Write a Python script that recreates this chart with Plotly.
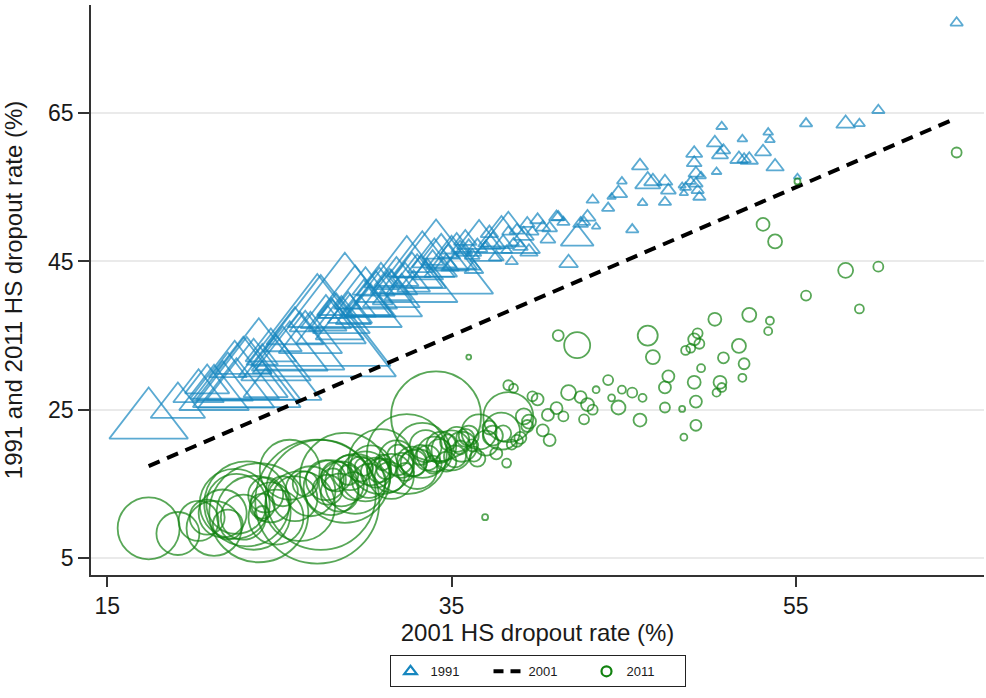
import math
import plotly.graph_objects as go

# One entry per municipality: 2001 dropout rate (x), 1991 and 2011 rates (y),
# and the population weight that scales the markers.
rate_2001 = [17.4, 19.1, 20.3, 20.8, 21.2, 21.7, 22.0, 22.4, 22.5, 22.9,
             23.1, 23.5, 23.8, 24.0, 24.0, 24.2, 24.5, 24.8, 25.2, 25.6,
             25.9, 26.2, 26.5, 26.8, 27.2, 27.4, 27.7, 28.0, 28.3, 28.6,
             28.8, 29.1, 29.4, 29.7, 30.0, 30.3, 30.6, 30.9, 31.2, 31.5,
             31.8, 32.1, 32.4, 32.7, 33.0, 33.3, 33.6, 34.1, 34.0, 34.4,
             34.7, 35.0, 35.3, 35.6, 36.0, 36.3, 36.6, 37.0, 37.4, 37.9,
             38.2, 38.5, 38.3, 38.6, 39.2, 39.4, 39.0, 40.0, 39.7, 40.6,
             41.1, 41.5, 40.7, 41.2, 42.3, 36.0, 41.8, 42.5, 42.9, 43.4,
             42.7, 43.2, 44.1, 44.3, 44.7, 44.9, 45.5, 46.1, 45.95, 46.4,
             46.7, 47.6, 47.4, 47.4, 48.4, 48.5, 48.6, 48.9, 49.1, 49.1,
             49.2, 49.2, 49.3, 49.4, 49.5, 50.3, 50.4, 50.6, 50.7, 50.8,
             51.7, 51.9, 52.0, 52.3, 53.1, 53.4, 53.5, 53.8, 55.1, 55.6,
             57.9, 58.7, 59.8, 64.35,
             27.8, 28.1, 28.5, 29.0, 29.3, 29.9, 30.2, 30.8, 31.0, 31.4,
             31.9, 32.3, 32.8, 33.2, 33.5, 33.9, 34.3, 34.8, 35.2, 35.5,
             35.8, 36.2, 36.5, 36.95, 37.2, 37.6, 38.0, 38.8, 39.5, 40.3,
             38.3]
rate_1991 = [23.4, 25.5, 27.5, 28.5, 27.0, 28.0, 30.5, 29.1, 27.5, 31.5,
             28.5, 29.1, 30.0, 32.0, 30.5, 28.0, 33.0, 31.0, 34.0, 32.5,
             35.5, 33.0, 36.5, 34.5, 34.1, 35.0, 37.5, 36.0, 38.5, 37.0,
             39.5, 38.0, 40.0, 38.5, 40.5, 39.0, 41.5, 40.0, 42.0, 40.5,
             43.0, 41.5, 42.5, 44.0, 43.0, 45.0, 43.5, 44.0, 45.5, 46.5,
             44.5, 45.5, 47.0, 45.0, 46.5, 44.0, 48.0, 46.0, 47.5, 48.4,
             46.5, 45.0, 49.0, 47.5, 48.5, 50.1, 47.0, 50.6, 49.0, 48.0,
             51.0, 50.3, 49.5, 51.0, 48.1, 46.0, 44.8, 50.1, 51.0, 49.7,
             50.3, 53.3, 52.2, 53.7, 54.2, 55.8, 49.3, 52.9, 57.9, 55.6,
             55.8, 54.6, 55.8, 53.0, 55.2, 54.2, 55.0, 55.8, 59.6, 58.3,
             56.9, 55.5, 54.6, 53.7, 56.5, 61.0, 57.1, 59.4, 63.2, 60.0,
             58.8, 61.5, 58.8, 58.7, 59.8, 62.4, 61.4, 57.8, 56.4, 63.6,
             63.6, 63.6, 65.4, 77.2,
             36.8, 38.2, 35.9, 39.4, 37.6, 41.2, 38.9, 42.4, 39.8, 41.8,
             40.6, 43.5, 41.9, 44.3, 42.6, 45.2, 43.8, 46.1, 44.6, 46.8,
             47.9, 45.8, 46.9, 47.2, 48.8, 45.6, 47.4, 49.2, 46.3, 49.6,
             48.0]
rate_2011 = [9.0, 8.3, 10.0, 10.5, 9.0, 11.0, 9.5, 12.3, 12.3, 10.5,
             12.3, 11.1, 11.1, 12.0, 11.0, 13.5, 12.5, 10.5, 14.0, 16.9,
             13.0, 12.0, 15.0, 14.0, 12.6, 13.5, 15.5, 14.5, 16.0, 15.0,
             15.8, 16.5, 15.0, 17.0, 16.0, 17.5, 16.5, 18.0, 17.0, 16.0,
             18.5, 17.5, 19.0, 18.0, 17.0, 19.5, 18.5, 24.1, 19.0, 20.0,
             18.0, 19.5, 21.0, 20.0, 21.5, 19.0, 22.0, 20.5, 21.5, 22.1,
             17.8, 20.3, 28.3, 27.9, 24.1, 22.8, 21.2, 26.4, 26.8, 24.3,
             25.2, 24.1, 20.9, 35.0, 33.7, 32.1, 27.3, 26.7, 25.7, 27.7,
             23.7, 25.0, 29.0, 26.6, 25.3, 27.7, 27.3, 26.6, 23.6, 35.0,
             32.1, 29.5, 28.0, 25.3, 25.1, 21.3, 33.0, 33.3, 28.7, 34.5,
             26.1, 22.9, 35.3, 33.9, 30.6, 37.2, 27.3, 28.7, 28.0, 32.0,
             33.6, 29.3, 31.2, 37.8, 50.0, 35.6, 37.0, 47.7, 55.8, 40.4,
             43.8, 38.6, 44.3, 59.7,
             14.2, 15.6, 13.8, 16.2, 14.7, 17.3, 15.4, 16.8, 17.9, 15.9,
             18.8, 16.6, 17.8, 18.9, 20.1, 17.6, 19.4, 20.6, 18.7, 19.9,
             21.2, 20.2, 18.4, 10.5, 22.6, 19.1, 21.8, 20.8, 23.4, 22.2,
             24.0]
weight = [961, 462, 400, 306, 756, 576, 225, 1225, 900, 506,
          1806, 1369, 2450, 156, 56, 306, 400, 756, 225, 900,
          506, 1225, 156, 625, 3844, 3025, 400, 756, 225, 506,
          2025, 306, 900, 156, 625, 400, 225, 1056, 100, 506,
          306, 156, 1600, 225, 400, 756, 156, 2025, 306, 225,
          100, 400, 156, 225, 100, 56, 306, 156, 100, 342,
          20, 25, 25, 20, 64, 36, 36, 36, 25, 36,
          36, 25, 36, 30, 169, 6, 56, 36, 42, 12,
          25, 25, 25, 12, 49, 16, 25, 16, 42, 100,
          49, 36, 36, 25, 9, 12, 20, 20, 42, 36,
          36, 30, 25, 25, 16, 42, 16, 42, 20, 30,
          49, 16, 30, 49, 42, 16, 16, 49, 9, 25,
          56, 20, 25, 25,
          225, 121, 361, 100, 196, 81, 289, 144, 64, 225,
          121, 81, 169, 100, 256, 81, 144, 64, 121, 49,
          81, 36, 64, 9, 49, 36, 64, 36, 49, 36,
          625]

# the 2001 series plotted against itself gives the 45-degree reference line
line_2001 = sorted(rate_2001)

BLUE = "#1686bf"
GREEN = "#11820f"
FONT = "Liberation Sans, Arial, sans-serif"

# marker diameter grows with the square root of the weight
diam = [2.0 * math.sqrt(w) for w in weight]

fig = go.Figure()
fig.add_trace(go.Scatter(
    x=rate_2001, y=rate_1991, mode="markers", name="1991", showlegend=False,
    marker=dict(symbol="triangle-up-open", size=[d * 1.1 for d in diam],
                color=BLUE, line=dict(width=1.8, color=BLUE)),
))
fig.add_trace(go.Scatter(
    x=line_2001, y=line_2001, mode="lines", name="2001", showlegend=False,
    line=dict(color="black", width=4, dash="12px,8px"),
))
fig.add_trace(go.Scatter(
    x=rate_2001, y=rate_2011, mode="markers", name="2011", showlegend=False,
    marker=dict(symbol="circle-open", size=diam,
                color=GREEN, line=dict(width=1.8, color=GREEN)),
))

# legend keys with fixed, small symbols
fig.add_trace(go.Scatter(
    x=[None], y=[None], mode="markers", name="1991",
    marker=dict(symbol="triangle-up-open", size=11, color=BLUE,
                line=dict(width=2.2, color=BLUE)),
))
fig.add_trace(go.Scatter(
    x=[None], y=[None], mode="lines", name="2001",
    line=dict(color="black", width=4, dash="10px,7px"),
))
fig.add_trace(go.Scatter(
    x=[None], y=[None], mode="markers", name="2011",
    marker=dict(symbol="circle-open", size=10, color=GREEN,
                line=dict(width=2.2, color=GREEN)),
))

fig.update_layout(
    width=986, height=698,
    margin=dict(l=91, r=2, t=5, b=123),
    paper_bgcolor="white", plot_bgcolor="white",
    font=dict(family=FONT, color="#1a1a1a"),
    showlegend=True,
    legend=dict(
        orientation="h", x=0.5, xanchor="center", y=-0.169, yanchor="middle",
        bordercolor="#222222", borderwidth=1, font=dict(size=13),
        entrywidth=53,
    ),
    xaxis=dict(
        range=[14.05, 65.94], tickvals=[15, 35, 55], showgrid=False,
        zeroline=False, showline=True, linecolor="#333333", linewidth=1.5,
        ticks="outside", ticklen=10, tickwidth=1.5, tickcolor="#333333",
        tickfont=dict(size=23),
        title=dict(text="2001 HS dropout rate (%)", font=dict(size=24), standoff=6),
    ),
    yaxis=dict(
        range=[2.7, 79.6], tickvals=[5, 25, 45, 65], showgrid=True,
        gridcolor="#eaeaea", gridwidth=1.5,
        zeroline=False, showline=True, linecolor="#333333", linewidth=1.5,
        ticks="outside", ticklen=11, tickwidth=1.5, tickcolor="#333333",
        tickfont=dict(size=23),
        title=dict(text="1991 and 2011 HS dropout rate (%)", font=dict(size=24), standoff=20),
    ),
)

fig.write_html("out.html")
